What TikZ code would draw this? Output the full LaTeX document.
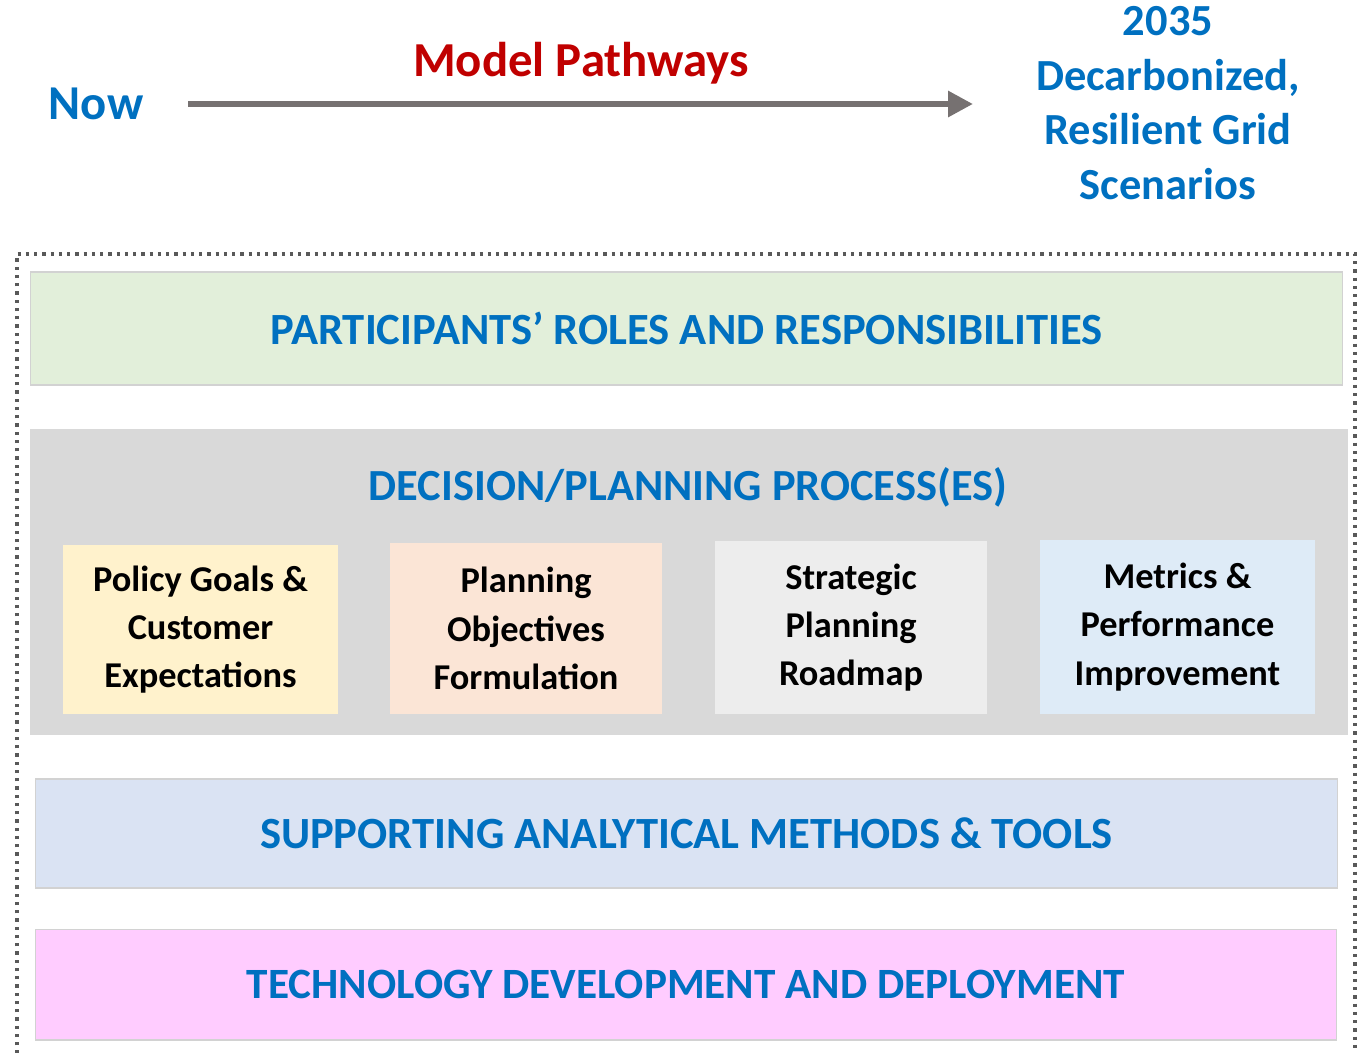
\documentclass[tikz,border=0pt]{standalone}
\usepackage{fontspec}
\setmainfont{Carlito}
\usetikzlibrary{arrows.meta}

\definecolor{titleblue}{HTML}{0070C0}
\definecolor{titlered}{HTML}{C00000}
\definecolor{arrowgray}{HTML}{767171}
\definecolor{framegray}{HTML}{595959}
\definecolor{bandgreen}{HTML}{E2EFDA}
\definecolor{bandgray}{HTML}{D9D9D9}
\definecolor{bandblue}{HTML}{DAE3F3}
\definecolor{bandpink}{HTML}{FFCCFF}
\definecolor{boxyellow}{HTML}{FFF2CC}
\definecolor{boxpeach}{HTML}{FBE5D6}
\definecolor{boxgray}{HTML}{EDEDED}
\definecolor{boxblue}{HTML}{DEEBF7}

\begin{document}
\begin{tikzpicture}
    [ x=0.02cm, y=-0.02cm
    , band/.style={draw=gray!35, line width=0.6pt, inner sep=0pt, text=titleblue,
        font=\fontsize{25.4}{30}\selectfont\bfseries}
    , stage/.style={inner sep=0pt, align=center, text=black,
        font=\fontsize{20.7}{27.5}\selectfont\bfseries}
    , heading/.style={text=titleblue, align=center, inner sep=0pt}
    ]
\useasboundingbox (0,0) rectangle (1365,1052);

% timeline
\node[heading, font=\fontsize{27.7}{32}\selectfont\bfseries] (now) at (96,104) {Now};
\node[heading, text=titlered, font=\fontsize{27.8}{32}\selectfont\bfseries] (pathways) at (581,63) {Model Pathways};
\node[heading, font=\fontsize{25.3}{31}\selectfont\bfseries] (goal) at (1168,103)
    {2035\\Decarbonized,\\Resilient Grid\\Scenarios};
\coordinate (pstart) at (188,104);
\coordinate (pend) at (973,104);
\draw[arrowgray, line width=0.12cm, -{Triangle[length=0.5cm,width=0.5cm]}] (pstart) -- (pend);

% dotted frame, open at the bottom
\draw[framegray, line width=0.065cm, dash pattern=on 0.065cm off 0.1cm]
    (17,1070) -- (17,254) -- (1355,254) -- (1355,1070);

% layers
\node[band, fill=bandgreen, minimum width=26.26cm, minimum height=2.26cm]
    (roles) at (686.5,328.5) {PARTICIPANTS’ ROLES AND RESPONSIBILITIES};
\node[band, fill=bandgray, draw=none, minimum width=26.36cm, minimum height=6.12cm]
    (process) at (689,582) {};
\node[heading, font=\fontsize{25.3}{30}\selectfont\bfseries] (processtitle) at (688,487)
    {DECISION/PLANNING PROCESS(ES)};
\node[band, fill=bandblue, minimum width=26.06cm, minimum height=2.18cm]
    (tools) at (686.5,833.5) {SUPPORTING ANALYTICAL METHODS \& TOOLS};
\node[band, fill=bandpink, minimum width=26.04cm, minimum height=2.22cm,
    font=\fontsize{24.6}{30}\selectfont\bfseries]
    (tech) at (686,984.5) {TECHNOLOGY DEVELOPMENT AND DEPLOYMENT};

% process stages
\node[stage, fill=boxyellow, minimum width=5.5cm, minimum height=3.38cm]
    (policy) at (200.5,629.5) {Policy Goals \&\\Customer\\Expectations};
\node[stage, fill=boxpeach, minimum width=5.44cm, minimum height=3.42cm]
    (objectives) at (526,628.5) {Planning\\Objectives\\Formulation};
\node[stage, fill=boxgray, minimum width=5.44cm, minimum height=3.46cm]
    (roadmap) at (851,627.5) {Strategic\\Planning\\Roadmap};
\node[stage, fill=boxblue, minimum width=5.5cm, minimum height=3.48cm]
    (metrics) at (1177.5,627) {Metrics \&\\Performance\\Improvement};

\end{tikzpicture}
\end{document}
